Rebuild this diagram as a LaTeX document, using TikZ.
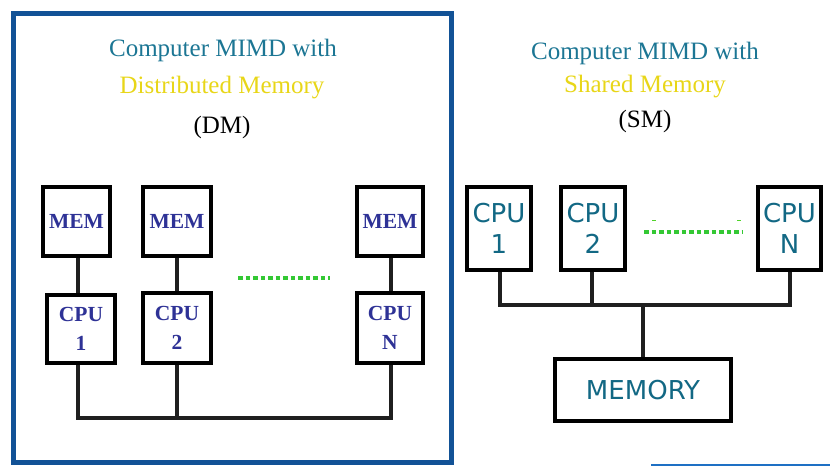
\documentclass[tikz,border=0pt]{standalone}
\usepackage{fontspec}
\setmainfont{Liberation Serif}
\newfontfamily\comicish{DejaVu Sans}
\definecolor{framebl}{RGB}{18,82,150}
\definecolor{linebl}{RGB}{30,112,196}
\definecolor{titleteal}{RGB}{28,118,148}
\definecolor{titleyel}{RGB}{232,214,24}
\definecolor{memblue}{RGB}{46,50,150}
\definecolor{cputeal}{RGB}{18,104,132}
\definecolor{dotgreen}{RGB}{52,200,52}
\tikzset{
  box/.style={draw=black,line width=4.5pt,fill=white,inner sep=0pt,align=center},
  dmtext/.style={font=\fontsize{21.5}{29}\selectfont\bfseries,text=memblue},
  smtext/.style={font=\comicish\fontsize{26}{31}\selectfont,text=cputeal},
  wire/.style={draw=black!88,line width=3.5pt},
  dots/.style={draw=dotgreen,line width=3.5pt,dash pattern=on 4.5pt off 3pt},
  ttl/.style={font=\fontsize{25}{30}\selectfont}
}
\begin{document}
\begin{tikzpicture}[x=1pt,y=-1pt]
\useasboundingbox (0,0) rectangle (830,466);
% frame
\draw[framebl,line width=5pt] (13.5,13.5) rectangle (451.5,462.5);
\draw[linebl,line width=2.5pt] (651,465) -- (830,465);
% titles left
\node[ttl,text=titleteal] (t1) at (223,50) {Computer MIMD with};
\node[ttl,text=titleyel] (t2) at (222,88) {Distributed Memory};
\node[ttl,text=black] (t3) at (222,127) {(DM)};
% titles right
\node[ttl,text=titleteal] (s1) at (645,53) {Computer MIMD with};
\node[ttl,text=titleyel] (s2) at (645,87) {Shared Memory};
\node[ttl,text=black] (s3) at (645,121) {(SM)};
% left diagram
\node[box,dmtext,minimum width=67pt,minimum height=69pt] (M1) at (76.5,221.5) {MEM};
\node[box,dmtext,minimum width=68pt,minimum height=69pt] (M2) at (177,221.5) {MEM};
\node[box,dmtext,minimum width=66pt,minimum height=69pt] (MN) at (390,221.5) {MEM};
\node[box,dmtext,minimum width=68pt,minimum height=68pt] (C1) at (81,329) {CPU\\1};
\node[box,dmtext,minimum width=68pt,minimum height=70pt] (C2) at (177,328) {CPU\\2};
\node[box,dmtext,minimum width=66pt,minimum height=70pt] (CN) at (390,328) {CPU\\N};
\coordinate (b1) at (78,418);
\coordinate (b2) at (177,418);
\coordinate (bN) at (391,418);
\draw[wire] (M1.south -| b1) -- (C1.north -| b1);
\draw[wire] (M2.south) -- (C2.north);
\draw[wire] (MN.south -| bN) -- (CN.north -| bN);
\draw[wire] (C1.south -| b1) -- (b1) -- (bN) -- (CN.south -| bN);
\draw[wire] (C2.south) -- (b2);
\coordinate (d1) at (238,278);
\coordinate (d2) at (330,278);
\draw[dots] (d1) -- (d2);
% right diagram
\node[box,smtext,minimum width=64pt,minimum height=83pt] (R1) at (499,228.5) {CPU\\1};
\node[box,smtext,minimum width=64pt,minimum height=83pt] (R2) at (593,228.5) {CPU\\2};
\node[box,smtext,minimum width=63pt,minimum height=83pt] (RN) at (789.5,228.5) {CPU\\N};
\node[box,smtext,minimum width=176pt,minimum height=62pt] (MEM) at (643,390) {MEMORY};
\coordinate (r1) at (500,305);
\coordinate (r2) at (592,305);
\coordinate (rN) at (790,305);
\coordinate (rm) at (643,305);
\draw[wire] (R1.south -| r1) -- (r1) -- (rN) -- (RN.south -| rN);
\draw[wire] (R2.south -| r2) -- (r2);
\draw[wire] (rm) -- (MEM.north);
\coordinate (e1) at (644,232);
\coordinate (e2) at (742,232);
\draw[dots] (e1) -- (e2);
\coordinate (f1) at (652,220);
\coordinate (f2) at (655.5,220);
\coordinate (g1) at (737,220);
\coordinate (g2) at (740.5,220);
\draw[draw=dotgreen!80!lime,line width=1pt] (f1) -- (f2) (g1) -- (g2);
\end{tikzpicture}
\end{document}
